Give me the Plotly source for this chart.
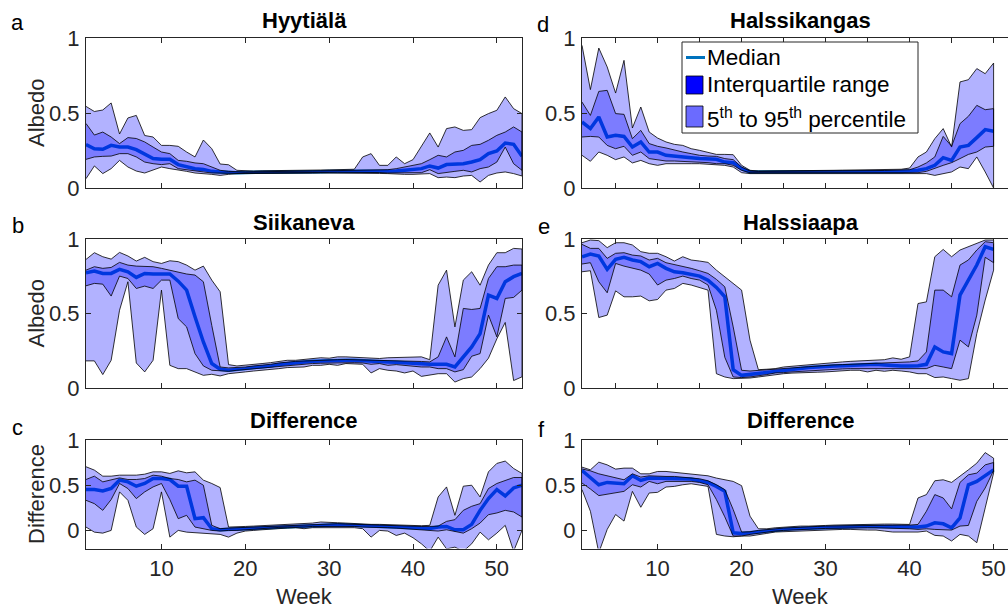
import plotly.graph_objects as go

# weeks on the x axis
WEEKS_LEFT = list(range(1, 54))
WEEKS_RIGHT = list(range(1, 51))

# a  Hyytiälä albedo percentiles
a_p95 = [0.544, 0.51, 0.52, 0.567, 0.36, 0.467, 0.484, 0.35, 0.34, 0.284,
         0.284, 0.278, 0.24, 0.207, 0.32, 0.262, 0.16, 0.155, 0.118, 0.113,
         0.113, 0.115, 0.115, 0.116, 0.117, 0.118, 0.119, 0.12, 0.12, 0.121,
         0.122, 0.122, 0.125, 0.207, 0.229, 0.151, 0.151, 0.207, 0.162, 0.189,
         0.28, 0.367, 0.273, 0.396, 0.407, 0.384, 0.389, 0.469, 0.496, 0.518,
         0.607, 0.529, 0.496]
a_p75 = [0.43, 0.353, 0.373, 0.34, 0.296, 0.336, 0.33, 0.307, 0.273, 0.24,
         0.229, 0.184, 0.178, 0.167, 0.162, 0.14, 0.118, 0.111, 0.107, 0.107,
         0.108, 0.108, 0.109, 0.11, 0.11, 0.111, 0.112, 0.113, 0.114, 0.115,
         0.116, 0.117, 0.118, 0.119, 0.12, 0.12, 0.122, 0.129, 0.14, 0.147,
         0.162, 0.189, 0.218, 0.207, 0.24, 0.251, 0.284, 0.291, 0.318, 0.351,
         0.373, 0.407, 0.373]
a_p50 = [0.29, 0.262, 0.258, 0.284, 0.273, 0.273, 0.256, 0.229, 0.196, 0.191,
         0.191, 0.156, 0.14, 0.129, 0.124, 0.111, 0.107, 0.102, 0.102, 0.104,
         0.104, 0.105, 0.105, 0.106, 0.106, 0.107, 0.108, 0.108, 0.109, 0.11,
         0.11, 0.111, 0.111, 0.112, 0.112, 0.112, 0.111, 0.113, 0.118, 0.122,
         0.129, 0.147, 0.133, 0.156, 0.158, 0.162, 0.173, 0.189, 0.229, 0.247,
         0.30, 0.291, 0.211]
a_p25 = [0.191, 0.207, 0.211, 0.213, 0.229, 0.229, 0.207, 0.173, 0.162, 0.156,
         0.162, 0.129, 0.118, 0.113, 0.107, 0.10, 0.096, 0.098, 0.098, 0.10,
         0.10, 0.10, 0.101, 0.101, 0.102, 0.102, 0.103, 0.103, 0.104, 0.104,
         0.105, 0.105, 0.105, 0.104, 0.104, 0.103, 0.10, 0.10, 0.10, 0.102,
         0.102, 0.122, 0.096, 0.102, 0.111, 0.118, 0.107, 0.129, 0.14, 0.173,
         0.273, 0.162, 0.118]
a_p5 = [0.062, 0.147, 0.096, 0.129, 0.184, 0.14, 0.113, 0.10, 0.118, 0.14,
        0.129, 0.118, 0.111, 0.10, 0.096, 0.091, 0.084, 0.091, 0.096, 0.096,
        0.096, 0.096, 0.097, 0.097, 0.098, 0.098, 0.099, 0.099, 0.10, 0.10,
        0.10, 0.10, 0.10, 0.099, 0.098, 0.097, 0.096, 0.091, 0.091, 0.091,
        0.091, 0.096, 0.069, 0.073, 0.069, 0.08, 0.084, 0.04, 0.084, 0.10,
        0.107, 0.096, 0.08]

# b  Siikaneva albedo percentiles
b_p95 = [0.863, 0.908, 0.881, 0.865, 0.91, 0.886, 0.852, 0.877, 0.848, 0.836,
         0.854, 0.848, 0.825, 0.791, 0.818, 0.724, 0.646, 0.157, 0.148, 0.152,
         0.159, 0.164, 0.17, 0.179, 0.186, 0.186, 0.19, 0.196, 0.203, 0.20,
         0.209, 0.209, 0.205, 0.203, 0.198, 0.198, 0.203, 0.205, 0.203, 0.205,
         0.209, 0.19, 0.69, 0.791, 0.41, 0.724, 0.78, 0.69, 0.825, 0.908,
         0.908, 0.937, 0.933]
b_p75 = [0.791, 0.814, 0.803, 0.809, 0.843, 0.825, 0.818, 0.814, 0.814, 0.803,
         0.791, 0.774, 0.765, 0.758, 0.713, 0.42, 0.141, 0.135, 0.137, 0.141,
         0.148, 0.152, 0.159, 0.168, 0.175, 0.179, 0.181, 0.184, 0.188, 0.19,
         0.19, 0.191, 0.19, 0.188, 0.186, 0.186, 0.186, 0.184, 0.184, 0.18,
         0.178, 0.175, 0.209, 0.343, 0.209, 0.534, 0.527, 0.534, 0.735, 0.814,
         0.814, 0.825, 0.825]
b_p50 = [0.774, 0.785, 0.769, 0.769, 0.796, 0.78, 0.742, 0.769, 0.765, 0.765,
         0.765, 0.717, 0.657, 0.478, 0.309, 0.164, 0.126, 0.119, 0.123, 0.13,
         0.137, 0.141, 0.148, 0.157, 0.164, 0.168, 0.175, 0.179, 0.182, 0.182,
         0.186, 0.186, 0.186, 0.182, 0.179, 0.177, 0.175, 0.173, 0.17, 0.164,
         0.159, 0.159, 0.159, 0.159, 0.141, 0.209, 0.276, 0.365, 0.623, 0.601,
         0.713, 0.747, 0.769]
b_p25 = [0.686, 0.702, 0.697, 0.617, 0.751, 0.735, 0.668, 0.684, 0.668, 0.724,
         0.724, 0.466, 0.41, 0.231, 0.148, 0.119, 0.114, 0.112, 0.119, 0.123,
         0.13, 0.135, 0.141, 0.148, 0.152, 0.157, 0.159, 0.164, 0.166, 0.168,
         0.17, 0.17, 0.17, 0.168, 0.159, 0.164, 0.152, 0.157, 0.152, 0.146,
         0.141, 0.141, 0.13, 0.13, 0.108, 0.123, 0.213, 0.231, 0.489, 0.343,
         0.601, 0.608, 0.657]
b_p5 = [0.182, 0.182, 0.09, 0.186, 0.522, 0.713, 0.168, 0.108, 0.186, 0.657,
        0.152, 0.13, 0.13, 0.108, 0.085, 0.092, 0.081, 0.096, 0.101, 0.108,
        0.114, 0.119, 0.126, 0.13, 0.137, 0.141, 0.141, 0.152, 0.152, 0.159,
        0.152, 0.164, 0.159, 0.159, 0.101, 0.13, 0.119, 0.114, 0.101, 0.114,
        0.078, 0.085, 0.096, 0.096, 0.04, 0.063, 0.074, 0.13, 0.2, 0.33,
        0.44, 0.05, 0.075]

# c  difference, left column
c_p95 = [0.704, 0.667, 0.60, 0.60, 0.611, 0.611, 0.611, 0.622, 0.648, 0.648,
         0.63, 0.659, 0.637, 0.648, 0.556, 0.519, 0.474, 0.037, 0.037, 0.044,
         0.048, 0.052, 0.056, 0.063, 0.067, 0.067, 0.074, 0.081, 0.093, 0.085,
         0.085, 0.081, 0.074, 0.074, 0.067, 0.067, 0.063, 0.059, 0.056, 0.056,
         0.052, 0.056, 0.37, 0.481, 0.167, 0.489, 0.50, 0.37, 0.648, 0.741,
         0.767, 0.685, 0.63]
c_p75 = [0.563, 0.60, 0.537, 0.556, 0.581, 0.563, 0.563, 0.574, 0.611, 0.60,
         0.574, 0.563, 0.537, 0.556, 0.50, 0.056, 0.019, 0.026, 0.03, 0.033,
         0.037, 0.041, 0.044, 0.048, 0.052, 0.056, 0.063, 0.067, 0.074, 0.074,
         0.074, 0.07, 0.067, 0.063, 0.059, 0.056, 0.052, 0.048, 0.044, 0.044,
         0.044, 0.044, 0.048, 0.10, 0.119, 0.222, 0.267, 0.296, 0.463, 0.519,
         0.556, 0.585, 0.585]
c_p50 = [0.452, 0.452, 0.437, 0.463, 0.556, 0.537, 0.489, 0.519, 0.574, 0.574,
         0.563, 0.489, 0.489, 0.13, 0.141, 0.019, 0.007, 0.011, 0.015, 0.019,
         0.026, 0.03, 0.037, 0.044, 0.048, 0.052, 0.052, 0.056, 0.063, 0.063,
         0.063, 0.059, 0.056, 0.052, 0.048, 0.044, 0.041, 0.037, 0.033, 0.03,
         0.026, 0.022, 0.037, 0.044, 0.007, 0.007, 0.067, 0.222, 0.352, 0.452,
         0.381, 0.47, 0.50]
c_p25 = [0.333, 0.296, 0.222, 0.341, 0.519, 0.463, 0.352, 0.426, 0.481, 0.519,
         0.341, 0.13, 0.167, 0.037, 0.019, 0.0, -0.007, 0.0, 0.0, 0.007,
         0.011, 0.019, 0.026, 0.033, 0.037, 0.041, 0.037, 0.044, 0.048, 0.048,
         0.048, 0.044, 0.044, 0.037, 0.033, 0.03, 0.03, 0.026, 0.022, 0.019,
         0.011, 0.0, -0.007, 0.007, -0.011, -0.03, 0.019, 0.081, 0.174, 0.193,
         0.222, 0.204, 0.148]
c_p5 = [0.037, -0.019, -0.03, 0.0, 0.426, 0.333, 0.037, -0.044, 0.019, 0.426,
        -0.074, 0.0, -0.019, -0.03, -0.037, -0.037, -0.044, -0.074, -0.03, -0.007,
        0.0, 0.007, 0.015, 0.022, 0.026, 0.03, 0.019, 0.03, 0.037, 0.037,
        0.037, 0.03, 0.03, 0.019, -0.074, 0.0, -0.007, -0.056, -0.03, -0.081,
        -0.148, -0.23, -0.074, -0.204, -0.185, -0.23, -0.148, -0.019, -0.104, -0.03,
        0.056, -0.23, 0.0]

# d  Halssikangas albedo percentiles
d_p95 = [0.951, 0.656, 0.933, 0.807, 0.633, 0.851, 0.40, 0.54, 0.373, 0.333,
         0.307, 0.291, 0.284, 0.262, 0.251, 0.24, 0.224, 0.224, 0.222, 0.151,
         0.118, 0.113, 0.113, 0.114, 0.115, 0.115, 0.116, 0.117, 0.117, 0.118,
         0.118, 0.119, 0.12, 0.12, 0.121, 0.122, 0.123, 0.124, 0.125, 0.133,
         0.207, 0.24, 0.329, 0.396, 0.273, 0.707, 0.722, 0.796, 0.762, 0.833]
d_p75 = [0.573, 0.484, 0.644, 0.651, 0.496, 0.491, 0.329, 0.384, 0.296, 0.278,
         0.267, 0.251, 0.24, 0.229, 0.218, 0.213, 0.211, 0.196, 0.189, 0.14,
         0.113, 0.111, 0.111, 0.111, 0.112, 0.112, 0.112, 0.113, 0.113, 0.113,
         0.114, 0.114, 0.115, 0.115, 0.116, 0.116, 0.117, 0.118, 0.119, 0.122,
         0.14, 0.167, 0.207, 0.344, 0.278, 0.429, 0.478, 0.551, 0.522, 0.529]
d_p50 = [0.44, 0.396, 0.473, 0.34, 0.351, 0.344, 0.273, 0.307, 0.24, 0.24,
         0.218, 0.211, 0.207, 0.202, 0.196, 0.191, 0.191, 0.173, 0.169, 0.129,
         0.107, 0.106, 0.106, 0.105, 0.105, 0.105, 0.105, 0.106, 0.106, 0.106,
         0.107, 0.107, 0.107, 0.108, 0.108, 0.108, 0.109, 0.109, 0.11, 0.113,
         0.118, 0.129, 0.151, 0.202, 0.184, 0.273, 0.284, 0.336, 0.389, 0.378]
d_p25 = [0.34, 0.344, 0.34, 0.284, 0.262, 0.278, 0.218, 0.24, 0.196, 0.189,
         0.18, 0.18, 0.178, 0.173, 0.173, 0.169, 0.162, 0.162, 0.151, 0.118,
         0.102, 0.101, 0.101, 0.10, 0.10, 0.10, 0.10, 0.101, 0.101, 0.101,
         0.101, 0.102, 0.102, 0.102, 0.102, 0.103, 0.103, 0.103, 0.103, 0.102,
         0.102, 0.111, 0.129, 0.151, 0.169, 0.196, 0.224, 0.24, 0.273, 0.278]
d_p5 = [0.218, 0.178, 0.24, 0.218, 0.189, 0.207, 0.167, 0.184, 0.162, 0.151,
        0.162, 0.162, 0.162, 0.162, 0.162, 0.158, 0.156, 0.151, 0.14, 0.102,
        0.096, 0.096, 0.096, 0.095, 0.095, 0.095, 0.095, 0.096, 0.096, 0.096,
        0.096, 0.097, 0.097, 0.097, 0.097, 0.097, 0.097, 0.097, 0.096, 0.096,
        0.096, 0.096, 0.084, 0.096, 0.107, 0.14, 0.129, 0.207, 0.107, 0.0]

# e  Halssiaapa albedo percentiles
e_p95 = [0.975, 0.993, 0.989, 0.942, 0.975, 0.975, 0.96, 0.915, 0.904, 0.904,
         0.881, 0.852, 0.881, 0.859, 0.852, 0.843, 0.791, 0.747, 0.706, 0.657,
         0.321, 0.123, 0.126, 0.13, 0.141, 0.146, 0.152, 0.159, 0.164, 0.17,
         0.172, 0.175, 0.179, 0.181, 0.184, 0.186, 0.19, 0.202, 0.193, 0.209,
         0.567, 0.578, 0.881, 0.93, 0.881, 0.926, 0.948, 0.975, 0.993, 0.993]
e_p75 = [0.964, 0.937, 0.937, 0.87, 0.904, 0.908, 0.892, 0.886, 0.859, 0.87,
         0.841, 0.83, 0.814, 0.803, 0.787, 0.769, 0.729, 0.679, 0.41, 0.119,
         0.114, 0.119, 0.123, 0.128, 0.13, 0.135, 0.139, 0.143, 0.148, 0.152,
         0.155, 0.157, 0.159, 0.161, 0.164, 0.166, 0.168, 0.17, 0.172, 0.175,
         0.182, 0.242, 0.657, 0.657, 0.612, 0.825, 0.859, 0.926, 0.982, 0.975]
e_p50 = [0.881, 0.899, 0.886, 0.796, 0.863, 0.877, 0.859, 0.848, 0.814, 0.836,
         0.803, 0.78, 0.774, 0.765, 0.751, 0.724, 0.675, 0.612, 0.123, 0.085,
         0.092, 0.096, 0.103, 0.114, 0.119, 0.126, 0.13, 0.137, 0.141, 0.146,
         0.148, 0.15, 0.152, 0.152, 0.157, 0.159, 0.155, 0.15, 0.148, 0.148,
         0.15, 0.159, 0.276, 0.242, 0.231, 0.623, 0.724, 0.825, 0.948, 0.93]
e_p25 = [0.832, 0.841, 0.713, 0.639, 0.836, 0.818, 0.803, 0.791, 0.765, 0.691,
         0.724, 0.735, 0.751, 0.735, 0.724, 0.691, 0.522, 0.206, 0.074, 0.07,
         0.074, 0.081, 0.09, 0.101, 0.103, 0.108, 0.112, 0.116, 0.12, 0.123,
         0.125, 0.128, 0.13, 0.132, 0.134, 0.135, 0.135, 0.135, 0.13, 0.13,
         0.13, 0.13, 0.152, 0.141, 0.13, 0.321, 0.276, 0.489, 0.877, 0.841]
e_p5 = [0.78, 0.787, 0.473, 0.489, 0.652, 0.612, 0.612, 0.617, 0.585, 0.594,
        0.657, 0.668, 0.702, 0.691, 0.675, 0.657, 0.096, 0.074, 0.063, 0.063,
        0.067, 0.074, 0.081, 0.09, 0.096, 0.10, 0.103, 0.105, 0.106, 0.108,
        0.11, 0.114, 0.119, 0.119, 0.108, 0.119, 0.112, 0.119, 0.114, 0.108,
        0.096, 0.096, 0.07, 0.074, 0.063, 0.052, 0.063, 0.365, 0.59, 0.791]

# f  difference, right column
f_p95 = [0.70, 0.67, 0.755, 0.725, 0.678, 0.689, 0.689, 0.626, 0.626, 0.652,
         0.652, 0.641, 0.634, 0.626, 0.615, 0.604, 0.579, 0.56, 0.542, 0.495,
         0.158, 0.018, 0.018, 0.029, 0.037, 0.04, 0.048, 0.048, 0.055, 0.055,
         0.059, 0.062, 0.066, 0.066, 0.07, 0.07, 0.07, 0.07, 0.07, 0.066,
         0.359, 0.396, 0.549, 0.56, 0.531, 0.597, 0.67, 0.744, 0.861, 0.799]
f_p75 = [0.68, 0.659, 0.626, 0.604, 0.579, 0.56, 0.626, 0.59, 0.604, 0.597,
         0.597, 0.597, 0.59, 0.586, 0.571, 0.549, 0.505, 0.451, 0.231, -0.018,
         -0.015, 0.0, 0.011, 0.018, 0.026, 0.03, 0.037, 0.04, 0.044, 0.048,
         0.05, 0.052, 0.053, 0.054, 0.055, 0.056, 0.057, 0.058, 0.059, 0.059,
         0.066, 0.212, 0.396, 0.359, 0.238, 0.531, 0.615, 0.634, 0.725, 0.751]
f_p50 = [0.663, 0.579, 0.505, 0.531, 0.524, 0.516, 0.604, 0.553, 0.579, 0.579,
         0.579, 0.579, 0.571, 0.568, 0.553, 0.531, 0.487, 0.432, -0.026, -0.033,
         -0.026, -0.015, -0.007, 0.004, 0.011, 0.018, 0.022, 0.026, 0.029, 0.033,
         0.037, 0.04, 0.04, 0.044, 0.044, 0.044, 0.044, 0.04, 0.04, 0.04,
         0.037, 0.048, 0.084, 0.073, 0.029, 0.139, 0.505, 0.542, 0.604, 0.67]
f_p25 = [0.524, 0.458, 0.385, 0.396, 0.414, 0.432, 0.505, 0.48, 0.542, 0.516,
         0.542, 0.549, 0.542, 0.542, 0.531, 0.505, 0.341, 0.15, -0.062, -0.062,
         -0.044, -0.033, -0.018, -0.007, 0.0, 0.004, 0.011, 0.015, 0.018, 0.022,
         0.026, 0.026, 0.026, 0.029, 0.029, 0.029, 0.026, 0.026, 0.022, 0.018,
         0.011, 0.018, 0.011, 0.004, 0.004, 0.048, 0.055, 0.322, 0.469, 0.663]
f_p5 = [0.451, 0.212, -0.245, 0.011, 0.176, 0.103, 0.432, 0.256, 0.414, 0.421,
        0.48, 0.487, 0.505, 0.516, 0.505, 0.487, -0.044, -0.062, -0.07, -0.062,
        -0.062, -0.044, -0.033, -0.018, -0.015, -0.011, -0.007, -0.004, 0.0, 0.004,
        0.007, 0.011, 0.011, 0.011, 0.004, 0.004, -0.007, -0.018, -0.026, -0.018,
        -0.018, -0.007, -0.055, -0.062, -0.117, -0.044, -0.062, -0.136, 0.249, 0.634]

TITLES = ["Hyytiälä", "Halssikangas", "Siikaneva", "Halssiaapa", "Difference", "Difference"]
LETTERS = ["a", "d", "b", "e", "c", "f"]
Y_LABELS = ["Albedo", "Albedo", "Difference"]
LEGEND_LABELS = ["Median", "Interquartile range", "5<sup>th</sup> to 95<sup>th</sup> percentile"]

W, H = 1008, 610
FONT = "Liberation Sans, Arial, Helvetica, sans-serif"
AXIS = "#262626"
MEDIAN = "#0072BD"
BAND = "rgba(0,0,255,0.3)"


def px(x):
    return x / W


def py(y):
    return 1 - y / H


fig = go.Figure()

# panel order: a, d, b, e, c, f  (row by row)
panels = [
    (WEEKS_LEFT, a_p5, a_p25, a_p50, a_p75, a_p95),
    (WEEKS_RIGHT, d_p5, d_p25, d_p50, d_p75, d_p95),
    (WEEKS_LEFT, b_p5, b_p25, b_p50, b_p75, b_p95),
    (WEEKS_RIGHT, e_p5, e_p25, e_p50, e_p75, e_p95),
    (WEEKS_LEFT, c_p5, c_p25, c_p50, c_p75, c_p95),
    (WEEKS_RIGHT, f_p5, f_p25, f_p50, f_p75, f_p95),
]

for i, (weeks, p5, p25, p50, p75, p95) in enumerate(panels, start=1):
    xa = "x" if i == 1 else f"x{i}"
    ya = "y" if i == 1 else f"y{i}"
    # median first, the transparent bands are drawn over it
    fig.add_trace(go.Scatter(
        x=weeks, y=p50, mode="lines", line=dict(color=MEDIAN, width=3.5),
        xaxis=xa, yaxis=ya, showlegend=False, hoverinfo="skip",
    ))
    for lo, hi in ((p5, p95), (p25, p75)):
        fig.add_trace(go.Scatter(
            x=weeks + weeks[::-1], y=hi + lo[::-1], mode="lines",
            fill="toself", fillcolor=BAND, line=dict(color="black", width=0.8),
            xaxis=xa, yaxis=ya, showlegend=False, hoverinfo="skip",
        ))

x_left = [86 / W, 522 / W]
x_right = [582 / W, 1.0]
y_rows = [[py(188), py(38)], [py(388), py(239)], [py(548.5), py(440)]]

tickfont = dict(family=FONT, size=22, color=AXIS)
layout = {}
for i in range(1, 7):
    row = (i - 1) // 2
    right = (i % 2 == 0)
    key = "" if i == 1 else str(i)
    if right and row < 2:
        xticks = list(range(5, 51, 5))
    else:
        xticks = [10, 20, 30, 40, 50]
    layout["xaxis" + key] = dict(
        domain=x_right if right else x_left,
        range=[1, 1 + (W - 582) / 8.4] if right else [1, 53],
        anchor="y" + key,
        tickvals=xticks,
        showticklabels=(row == 2),
        ticks="inside", ticklen=5, tickwidth=1, tickcolor=AXIS,
        showline=True, linecolor=AXIS, linewidth=1, mirror="ticks",
        showgrid=False, zeroline=False, tickfont=tickfont,
        automargin=False, fixedrange=True,
    )
    layout["yaxis" + key] = dict(
        domain=y_rows[row],
        range=[-0.2, 1] if row == 2 else [0, 1],
        anchor="x" + key,
        tickvals=[0, 0.5, 1], ticktext=["0", "0.5", "1"],
        ticks="inside", ticklen=5, tickwidth=1, tickcolor=AXIS,
        showline=True, linecolor=AXIS, linewidth=1,
        mirror=False if right else "ticks",
        showgrid=False, zeroline=False, tickfont=tickfont,
        ticklabelstandoff=1, automargin=False, fixedrange=True,
    )

annotations = []
title_centres = [304, 800.5]
title_y = [20.6, 222.3, 420.6]
letter_pos = [(17.5, 22.6), (543.3, 24.3), (17.5, 225.9), (544, 226), (17.5, 427.6), (541, 429.3)]
for i, (title, letter) in enumerate(zip(TITLES, LETTERS)):
    row, col = i // 2, i % 2
    annotations.append(dict(
        text=f"<b>{title}</b>", x=px(title_centres[col]), y=py(title_y[row]),
        xref="paper", yref="paper", xanchor="center", yanchor="middle",
        showarrow=False, font=dict(family=FONT, size=22, color="black"),
    ))
    lx, ly = letter_pos[i]
    annotations.append(dict(
        text=letter, x=px(lx), y=py(ly), xref="paper", yref="paper",
        xanchor="center", yanchor="middle", showarrow=False,
        font=dict(family=FONT, size=22, color="black"),
    ))

for label, yc in zip(Y_LABELS, [113, 313.5, 494]):
    annotations.append(dict(
        text=label, x=px(36), y=py(yc), xref="paper", yref="paper",
        xanchor="center", yanchor="middle", textangle=-90, showarrow=False,
        font=dict(family=FONT, size=22, color=AXIS),
    ))

for xc in title_centres:
    annotations.append(dict(
        text="Week", x=px(xc), y=py(596), xref="paper", yref="paper",
        xanchor="center", yanchor="middle", showarrow=False,
        font=dict(family=FONT, size=22, color=AXIS),
    ))

# legend drawn by hand inside panel d
shapes = [
    dict(type="rect", xref="paper", yref="paper", x0=px(682), x1=px(918), y0=py(133), y1=py(42),
         line=dict(color=AXIS, width=1), fillcolor="white", layer="above"),
    dict(type="line", xref="paper", yref="paper", x0=px(686), x1=px(705), y0=py(57.5), y1=py(57.5),
         line=dict(color=MEDIAN, width=3), layer="above"),
    dict(type="rect", xref="paper", yref="paper", x0=px(686), x1=px(703), y0=py(94), y1=py(76),
         line=dict(color="black", width=0.8), fillcolor="#0000ff", layer="above"),
    dict(type="rect", xref="paper", yref="paper", x0=px(686), x1=px(703), y0=py(127), y1=py(106),
         line=dict(color="black", width=0.8), fillcolor="#6b6bff", layer="above"),
]
for label, yc in zip(LEGEND_LABELS, [57.6, 84.6, 118]):
    annotations.append(dict(
        text=label, x=px(705), y=py(yc), xref="paper", yref="paper",
        xanchor="left", yanchor="middle", showarrow=False,
        font=dict(family=FONT, size=22.5, color="black"),
    ))

fig.update_layout(
    template="none",
    width=W, height=H, autosize=False,
    margin=dict(l=0, r=0, t=0, b=0, pad=0, autoexpand=False),
    paper_bgcolor="white", plot_bgcolor="white",
    font=dict(family=FONT, color=AXIS),
    showlegend=False,
    annotations=annotations,
    shapes=shapes,
    **layout,
)

# pin the figure to the window's top-left corner so page margins add nothing
pin = (
    "var gd = document.getElementById('{plot_id}');"
    "gd.style.position = 'fixed'; gd.style.left = '0px'; gd.style.top = '0px';"
    "document.documentElement.style.margin = '0'; document.body.style.margin = '0';"
    "document.documentElement.style.overflow = 'hidden'; document.body.style.overflow = 'hidden';"
)
fig.write_html("out.html", post_script=pin, config={"displayModeBar": False})
